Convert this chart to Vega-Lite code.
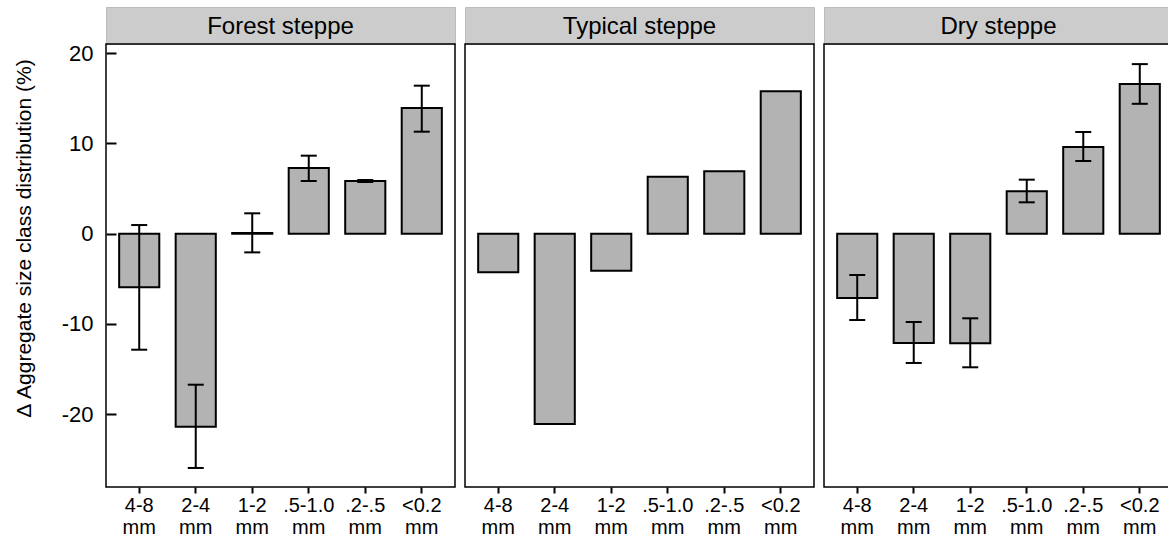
{
  "$schema": "https://vega.github.io/schema/vega-lite/v6.json",
  "padding": {"left": 12, "top": 6, "right": 0, "bottom": 0},
  "config": {"font": "Liberation Sans"},
  "spacing": 8,
  "datasets": {
    "zones": [
      {"zone": "Forest steppe"},
      {"zone": "Typical steppe"},
      {"zone": "Dry steppe"}
    ],
    "bars": [
      {"zone": "Forest steppe", "size": "4-8 mm", "value": -5.94, "lo": -12.86, "hi": 0.96},
      {"zone": "Forest steppe", "size": "2-4 mm", "value": -21.4, "lo": -25.97, "hi": -16.74},
      {"zone": "Forest steppe", "size": "1-2 mm", "value": 0.08, "lo": -2.07, "hi": 2.26},
      {"zone": "Forest steppe", "size": ".5-1.0 mm", "value": 7.28, "lo": 5.84, "hi": 8.65},
      {"zone": "Forest steppe", "size": ".2-.5 mm", "value": 5.84, "lo": 5.73, "hi": 5.95},
      {"zone": "Forest steppe", "size": "<0.2 mm", "value": 13.94, "lo": 11.31, "hi": 16.41},
      {"zone": "Typical steppe", "size": "4-8 mm", "value": -4.28, "lo": null, "hi": null},
      {"zone": "Typical steppe", "size": "2-4 mm", "value": -21.1, "lo": null, "hi": null},
      {"zone": "Typical steppe", "size": "1-2 mm", "value": -4.1, "lo": null, "hi": null},
      {"zone": "Typical steppe", "size": ".5-1.0 mm", "value": 6.32, "lo": null, "hi": null},
      {"zone": "Typical steppe", "size": ".2-.5 mm", "value": 6.92, "lo": null, "hi": null},
      {"zone": "Typical steppe", "size": "<0.2 mm", "value": 15.79, "lo": null, "hi": null},
      {"zone": "Dry steppe", "size": "4-8 mm", "value": -7.13, "lo": -9.57, "hi": -4.58},
      {"zone": "Dry steppe", "size": "2-4 mm", "value": -12.12, "lo": -14.33, "hi": -9.79},
      {"zone": "Dry steppe", "size": "1-2 mm", "value": -12.15, "lo": -14.81, "hi": -9.38},
      {"zone": "Dry steppe", "size": ".5-1.0 mm", "value": 4.7, "lo": 3.48, "hi": 5.99},
      {"zone": "Dry steppe", "size": ".2-.5 mm", "value": 9.61, "lo": 8.06, "hi": 11.28},
      {"zone": "Dry steppe", "size": "<0.2 mm", "value": 16.6, "lo": 14.4, "hi": 18.8}
    ]
  },
  "hconcat": [
    {
      "spacing": 0,
      "bounds": "flush",
      "vconcat": [
        {
          "width": 349, "height": 37,
          "data": {"name": "zones"},
          "transform": [{"filter": "datum.zone === 'Forest steppe'"}],
          "view": {"fill": "#cccccc", "stroke": "#bcbcbc", "strokeWidth": 1},
          "mark": {"type": "text", "fontSize": 24, "color": "black", "baseline": "middle", "dy": 1},
          "encoding": {"text": {"field": "zone", "type": "nominal"}}
        },
        {
          "width": 349, "height": 443,
          "data": {"name": "bars"},
          "transform": [{"filter": "datum.zone === 'Forest steppe'"}],
          "view": {"stroke": "black", "strokeWidth": 1.5, "fill": "transparent"},
          "encoding": {
            "x": {"field": "size", "type": "nominal",
              "sort": ["4-8 mm", "2-4 mm", "1-2 mm", ".5-1.0 mm", ".2-.5 mm", "<0.2 mm"],
              "scale": {"paddingInner": 0.29, "paddingOuter": 0.233},
              "axis": {"title": null, "domain": false, "grid": false, "labelAngle": 0, "labelExpr": "split(datum.value, ' ')",
                "tickSize": 6, "tickWidth": 2, "tickColor": "black", "labelFontSize": 20, "labelLineHeight": 22,
                "labelColor": "black", "labelPadding": 2}}
          },
          "layer": [
            {
              "mark": {"type": "bar", "fill": "#b3b3b3", "stroke": "black", "strokeWidth": 2},
              "encoding": {
                "y": {"field": "value", "type": "quantitative",
                  "scale": {"domain": [-28.08, 21.03], "nice": false},
                  "title": "Δ Aggregate size class distribution (%)",
                  "axis": {"values": [-20, -10, 0, 10, 20], "labelExpr": "'' + datum.value", "domain": false, "grid": false,
                    "offset": -10, "tickSize": 10, "tickWidth": 2, "zindex": 1,
                    "tickColor": "black", "labelFontSize": 22, "labelColor": "black", "labelPadding": 13,
                    "titleFontSize": 21, "titleFontWeight": "normal", "titleColor": "black", "titlePadding": 27, "titleY": 194}}
              }
            },
            {
              "transform": [{"filter": "isValid(datum.lo)"}],
              "mark": {"type": "rule", "color": "black", "strokeWidth": 2},
              "encoding": {"y": {"field": "lo", "type": "quantitative", "title": "Δ Aggregate size class distribution (%)"}, "y2": {"field": "hi"}}
            },
            {
              "transform": [{"filter": "isValid(datum.lo)"}],
              "mark": {"type": "tick", "color": "black", "thickness": 2, "size": 16, "opacity": 1},
              "encoding": {"y": {"field": "lo", "type": "quantitative", "title": "Δ Aggregate size class distribution (%)"}}
            },
            {
              "transform": [{"filter": "isValid(datum.hi)"}],
              "mark": {"type": "tick", "color": "black", "thickness": 2, "size": 16, "opacity": 1},
              "encoding": {"y": {"field": "hi", "type": "quantitative", "title": "Δ Aggregate size class distribution (%)"}}
            }
          ]
        }
      ]
    },
    {
      "spacing": 0,
      "bounds": "flush",
      "vconcat": [
        {
          "width": 349, "height": 37,
          "data": {"name": "zones"},
          "transform": [{"filter": "datum.zone === 'Typical steppe'"}],
          "view": {"fill": "#cccccc", "stroke": "#bcbcbc", "strokeWidth": 1},
          "mark": {"type": "text", "fontSize": 24, "color": "black", "baseline": "middle", "dy": 1},
          "encoding": {"text": {"field": "zone", "type": "nominal"}}
        },
        {
          "width": 349, "height": 443,
          "data": {"name": "bars"},
          "transform": [{"filter": "datum.zone === 'Typical steppe'"}],
          "view": {"stroke": "black", "strokeWidth": 1.5, "fill": "transparent"},
          "encoding": {
            "x": {"field": "size", "type": "nominal",
              "sort": ["4-8 mm", "2-4 mm", "1-2 mm", ".5-1.0 mm", ".2-.5 mm", "<0.2 mm"],
              "scale": {"paddingInner": 0.29, "paddingOuter": 0.233},
              "axis": {"title": null, "domain": false, "grid": false, "labelAngle": 0, "labelExpr": "split(datum.value, ' ')",
                "tickSize": 6, "tickWidth": 2, "tickColor": "black", "labelFontSize": 20, "labelLineHeight": 22,
                "labelColor": "black", "labelPadding": 2}}
          },
          "layer": [
            {
              "mark": {"type": "bar", "fill": "#b3b3b3", "stroke": "black", "strokeWidth": 2},
              "encoding": {
                "y": {"field": "value", "type": "quantitative",
                  "scale": {"domain": [-28.08, 21.03], "nice": false},
                  "axis": null}
              }
            }
          ]
        }
      ]
    },
    {
      "spacing": 0,
      "bounds": "flush",
      "vconcat": [
        {
          "width": 349, "height": 37,
          "data": {"name": "zones"},
          "transform": [{"filter": "datum.zone === 'Dry steppe'"}],
          "view": {"fill": "#cccccc", "stroke": "#bcbcbc", "strokeWidth": 1},
          "mark": {"type": "text", "fontSize": 24, "color": "black", "baseline": "middle", "dy": 1},
          "encoding": {"text": {"field": "zone", "type": "nominal"}}
        },
        {
          "width": 349, "height": 443,
          "data": {"name": "bars"},
          "transform": [{"filter": "datum.zone === 'Dry steppe'"}],
          "view": {"stroke": "black", "strokeWidth": 1.5, "fill": "transparent"},
          "encoding": {
            "x": {"field": "size", "type": "nominal",
              "sort": ["4-8 mm", "2-4 mm", "1-2 mm", ".5-1.0 mm", ".2-.5 mm", "<0.2 mm"],
              "scale": {"paddingInner": 0.29, "paddingOuter": 0.233},
              "axis": {"title": null, "domain": false, "grid": false, "labelAngle": 0, "labelExpr": "split(datum.value, ' ')",
                "tickSize": 6, "tickWidth": 2, "tickColor": "black", "labelFontSize": 20, "labelLineHeight": 22,
                "labelColor": "black", "labelPadding": 2}}
          },
          "layer": [
            {
              "mark": {"type": "bar", "fill": "#b3b3b3", "stroke": "black", "strokeWidth": 2},
              "encoding": {
                "y": {"field": "value", "type": "quantitative",
                  "scale": {"domain": [-28.08, 21.03], "nice": false},
                  "axis": null}
              }
            },
            {
              "mark": {"type": "rule", "color": "black", "strokeWidth": 2},
              "encoding": {"y": {"field": "lo", "type": "quantitative"}, "y2": {"field": "hi"}}
            },
            {
              "mark": {"type": "tick", "color": "black", "thickness": 2, "size": 16, "opacity": 1},
              "encoding": {"y": {"field": "lo", "type": "quantitative"}}
            },
            {
              "mark": {"type": "tick", "color": "black", "thickness": 2, "size": 16, "opacity": 1},
              "encoding": {"y": {"field": "hi", "type": "quantitative"}}
            }
          ]
        }
      ]
    }
  ]
}
